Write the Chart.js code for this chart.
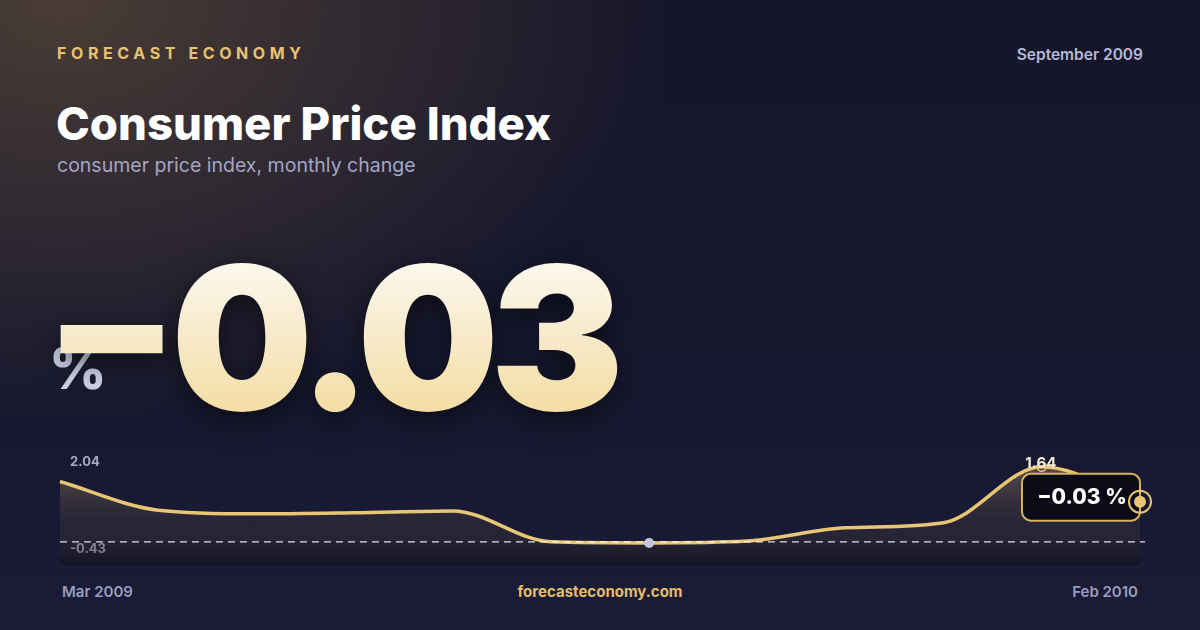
<!DOCTYPE html>
<html>
<head>
<meta charset="utf-8">
<script src="https://cdn.jsdelivr.net/npm/chart.js@4"></script>
<style>
    html, body { margin: 0; padding: 0; }
    body {
        width: 1200px;
        height: 630px;
        overflow: hidden;
        position: relative;
        font-family: 'Inter', 'Noto Sans', sans-serif;
        background:
            radial-gradient(ellipse 620px 420px at 60px 0px, rgba(92, 74, 58, 0.75), rgba(92, 74, 58, 0) 100%),
            linear-gradient(180deg, #15152a 0%, #17182f 60%, #1a1b36 100%);
    }
    .abs { position: absolute; line-height: 1; white-space: nowrap; }
    #brand { left: 57px; top: 45px; font-size: 16px; font-weight: 700; letter-spacing: 4.6px; color: #e8c271; }
    #date { right: 57px; top: 47px; font-size: 15.5px; font-weight: 600; color: #b6b9d6; }
    #title { left: 56px; top: 101px; font-size: 45.5px; font-weight: 800; color: #ffffff; letter-spacing: 0; }
    #subtitle { left: 57px; top: 156px; font-size: 19.5px; font-weight: 400; color: #a3a6c4; }
    #unit { left: 49px; top: 341px; font-size: 56px; font-weight: 800; color: #cdd1e8; }
    #bigValue {
        left: 43px; top: 225px; padding-right: 30px;
        font-size: 200px; font-weight: 900; letter-spacing: -9px;
        background: linear-gradient(180deg, #ffffff 0%, #f8edd2 45%, #f3d998 100%);
        -webkit-background-clip: text; background-clip: text; color: transparent;
        filter: drop-shadow(0 8px 14px rgba(0, 0, 0, 0.55));
    }
    #bigValue .sign { font-weight: 800; vertical-align: 12px; }
    #startLabel { left: 62px; top: 584px; font-size: 15px; font-weight: 600; color: #9a9dbd; }
    #endLabel { right: 62px; top: 584px; font-size: 15px; font-weight: 600; color: #9a9dbd; }
    #site { left: 0; width: 1200px; text-align: center; top: 584px; font-size: 15px; font-weight: 700; color: #e3bd6a; }
    #chartWrap { position: absolute; left: 40px; top: 440px; width: 1120px; height: 140px; }
</style>
</head>
<body>
<div class="abs" id="brand">FORECAST ECONOMY</div>
<div class="abs" id="date">September 2009</div>
<div class="abs" id="title">Consumer Price Index</div>
<div class="abs" id="subtitle">consumer price index, monthly change</div>
<div class="abs" id="unit">%</div>
<div class="abs" id="bigValue"><span class="sign">−</span>0.03</div>
<div id="chartWrap"><canvas id="cpiChart"></canvas></div>
<div class="abs" id="startLabel">Mar 2009</div>
<div class="abs" id="site">forecasteconomy.com</div>
<div class="abs" id="endLabel">Feb 2010</div>

<script>
// ===================================
// CPI monthly change - sparkline card
// ===================================

const months = ['Mar 2009', 'Apr 2009', 'May 2009', 'Jun 2009', 'Jul 2009', 'Aug 2009',
                'Sep 2009', 'Oct 2009', 'Nov 2009', 'Dec 2009', 'Jan 2010', 'Feb 2010'];
const cpiChange = [1.24, 0.46, 0.36, 0.39, 0.44, -0.40, -0.43, -0.38, -0.02, 0.12, 1.64, 0.69];
const rangeLabels = ['2.04', '-0.43'];   // top of range, low of range
const axisMax = 2.04;
const axisMin = -1.03;
const currentLabel = '−0.03 %';
const peakLabel = '1.64';

const GOLD = '#e8c675';

const minIndex = cpiChange.indexOf(Math.min(...cpiChange));
const peakIndex = cpiChange.indexOf(Math.max(...cpiChange.slice(1)));
const lastIndex = cpiChange.length - 1;

// Draw the reference line, labels and end badge
const overlayPlugin = {
    id: 'overlay',
    beforeDatasetsDraw(chart) {
        const { ctx, chartArea, scales } = chart;
        const yMin = scales.y.getPixelForValue(cpiChange[minIndex]);

        ctx.save();
        ctx.font = '700 13px Inter, sans-serif';
        ctx.fillStyle = '#a6a9c7';
        ctx.textBaseline = 'alphabetic';
        ctx.fillText(rangeLabels[0], chartArea.left + 10, chartArea.top + 14);
        ctx.fillText(rangeLabels[1], chartArea.left + 10, yMin + 10);
        ctx.restore();
    },
    afterDatasetsDraw(chart) {
        const { ctx, chartArea, scales } = chart;
        const meta = chart.getDatasetMeta(0);
        const yMin = scales.y.getPixelForValue(cpiChange[minIndex]);

        // dashed low line
        ctx.save();
        ctx.strokeStyle = 'rgba(255, 255, 255, 0.85)';
        ctx.lineWidth = 1.3;
        ctx.setLineDash([7, 5]);
        ctx.beginPath();
        ctx.moveTo(chartArea.left, yMin - 1);
        ctx.lineTo(chartArea.right + 5, yMin - 1);
        ctx.stroke();
        ctx.restore();

        // low point dot
        const low = meta.data[minIndex];
        ctx.save();
        ctx.fillStyle = '#c3c6e0';
        ctx.beginPath();
        ctx.arc(low.x, low.y, 5, 0, Math.PI * 2);
        ctx.fill();
        ctx.restore();

        // peak marker + label
        const peak = meta.data[peakIndex];
        ctx.save();
        ctx.strokeStyle = GOLD;
        ctx.lineWidth = 1.5;
        ctx.beginPath();
        ctx.arc(peak.x, peak.y, 4.5, 0, Math.PI * 2);
        ctx.stroke();
        ctx.font = '700 15px Inter, sans-serif';
        ctx.fillStyle = '#f3ead9';
        ctx.textAlign = 'center';
        ctx.fillText(peakLabel, peak.x - 1, peak.y + 1);
        ctx.restore();

        // end badge
        const last = meta.data[lastIndex];
        const boxW = 118, boxH = 47;
        const bx = last.x - boxW, by = last.y - 28;
        ctx.save();
        ctx.fillStyle = '#0a0b17';
        ctx.strokeStyle = '#d8b25d';
        ctx.lineWidth = 2;
        ctx.beginPath();
        ctx.roundRect(bx, by, boxW, boxH, 9);
        ctx.fill();
        ctx.stroke();
        ctx.font = '800 21px Inter, sans-serif';
        ctx.fillStyle = '#ffffff';
        ctx.textAlign = 'center';
        ctx.textBaseline = 'alphabetic';
        ctx.fillText(currentLabel, bx + boxW / 2 + 1, by + 30);

        // end point with ring
        ctx.strokeStyle = GOLD;
        ctx.lineWidth = 2;
        ctx.beginPath();
        ctx.arc(last.x, last.y, 11, 0, Math.PI * 2);
        ctx.stroke();
        ctx.fillStyle = GOLD;
        ctx.beginPath();
        ctx.arc(last.x, last.y, 6, 0, Math.PI * 2);
        ctx.fill();
        ctx.restore();
    }
};

const ctx = document.getElementById('cpiChart');

new Chart(ctx, {
    type: 'line',
    data: {
        labels: months,
        datasets: [{
            label: 'CPI monthly change',
            data: cpiChange,
            borderColor: GOLD,
            borderWidth: 3.5,
            cubicInterpolationMode: 'monotone',
            pointRadius: 0,
            fill: 'start',
            clip: false,
            backgroundColor: function(context) {
                const area = context.chart.chartArea;
                if (!area) return 'rgba(0,0,0,0)';
                const g = context.chart.ctx.createLinearGradient(0, area.top + 20, 0, area.bottom);
                g.addColorStop(0, 'rgba(232, 198, 117, 0.28)');
                g.addColorStop(0.55, 'rgba(120, 100, 80, 0.14)');
                g.addColorStop(1, 'rgba(8, 8, 16, 0.45)');
                return g;
            }
        }]
    },
    options: {
        responsive: true,
        maintainAspectRatio: false,
        animation: false,
        layout: { padding: { left: 20, right: 20, top: 12, bottom: 15 } },
        plugins: {
            legend: { display: false },
            tooltip: { enabled: false }
        },
        scales: {
            x: { display: false },
            y: { display: false, min: axisMin, max: axisMax }
        }
    },
    plugins: [overlayPlugin]
});
</script>
</body>
</html>
